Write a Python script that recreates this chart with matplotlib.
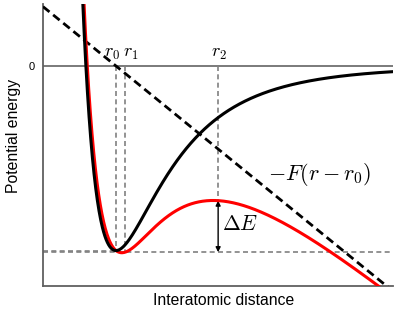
import numpy as np
import matplotlib
matplotlib.use('Agg')
import matplotlib.pyplot as plt

plt.rcParams['font.family'] = ['Liberation Sans', 'DejaVu Sans']
plt.rcParams['mathtext.fontset'] = 'cm'

# Lennard-Jones style pair potential (units: r_min = 1, well depth = 1)
eps = 1.0
r_min = 1.0
F = 1.216            # applied force (slope of the dashed line)

# marker positions
r_marks = [1.0, 1.033, 1.37]
r_labels = ['$r_0$', '$r_1$', '$r_2$']
r_label_x = [0.986, 1.054, 1.373]

xlim = (0.7355, 2.0036)
ylim = (-1.192, 0.336)


def potential(r):
    return eps * ((r_min / r) ** 12 - 2 * (r_min / r) ** 6)


r = np.linspace(0.80, xlim[1], 800)
V = potential(r)
tilted = V - F * (r - r_marks[0])
r_line = np.array([xlim[0], xlim[1]])
lin = -F * (r_line - r_marks[0])

fig = plt.figure(figsize=(3.99, 3.14), dpi=100)
ax = fig.add_axes([0.1078, 0.0892, 0.8772, 0.8981])

gray = '#808080'
ax.axhline(0, color='#707070', lw=1.3, zorder=1)

# reference lines
e_min_black = potential(r_marks[0])
e_min_red = potential(r_marks[1]) - F * (r_marks[1] - r_marks[0])
e_max_red = potential(r_marks[2]) - F * (r_marks[2] - r_marks[0])
dash = (0, (3, 2))
ax.plot([xlim[0], r_marks[0]], [e_min_black, e_min_black], ls=dash, color=gray, lw=1.2)
ax.plot([xlim[0], xlim[1] - 0.01], [e_min_red, e_min_red], ls=dash, color=gray, lw=1.2)
ax.plot([r_marks[0], r_marks[0]], [0, e_min_black], ls=dash, color=gray, lw=1.2)
ax.plot([r_marks[1], r_marks[1]], [0, e_min_red], ls=dash, color=gray, lw=1.2)
ax.plot([r_marks[2], r_marks[2]], [0, e_max_red], ls=dash, color=gray, lw=1.2)

ax.plot(r_line, lin, color='black', lw=2.0, ls=(0, (3, 1.7)), zorder=3)
ax.plot(r, tilted, color='red', lw=2.2, zorder=4)
ax.plot(r, V, color='black', lw=2.2, zorder=5)

ax.annotate('', xy=(r_marks[2], e_min_red), xytext=(r_marks[2], e_max_red),
            arrowprops=dict(arrowstyle='<|-|>', color='black', lw=1.0,
                            mutation_scale=7, shrinkA=0, shrinkB=0))
ax.text(r_marks[2] + 0.013, (e_min_red + e_max_red) / 2 + 0.01, r'$\Delta E$', fontsize=15.5,
        va='center', ha='left')
ax.text(1.55, -0.59, r'$-F(r-r_0)$', fontsize=16, va='center', ha='left')

for x, lab in zip(r_label_x, r_labels):
    ax.text(x, 0.02, lab, fontsize=13, ha='center', va='bottom')

ax.set_xlim(*xlim)
ax.set_ylim(*ylim)
ax.set_xticks([])
ax.set_yticks([0])
ax.tick_params(axis='y', length=0, pad=6, labelsize=8)
for s in ['top', 'right']:
    ax.spines[s].set_visible(False)
for s in ['left', 'bottom']:
    ax.spines[s].set_color('#606060')
    ax.spines[s].set_linewidth(1.3)

ax.set_ylabel('Potential energy', fontsize=11.3)
ax.set_xlabel('Interatomic distance', fontsize=11.3)
ax.yaxis.set_label_coords(-0.062, 0.532)
ax.xaxis.set_label_coords(0.517, -0.025)

fig.savefig('out.png', dpi=100)
